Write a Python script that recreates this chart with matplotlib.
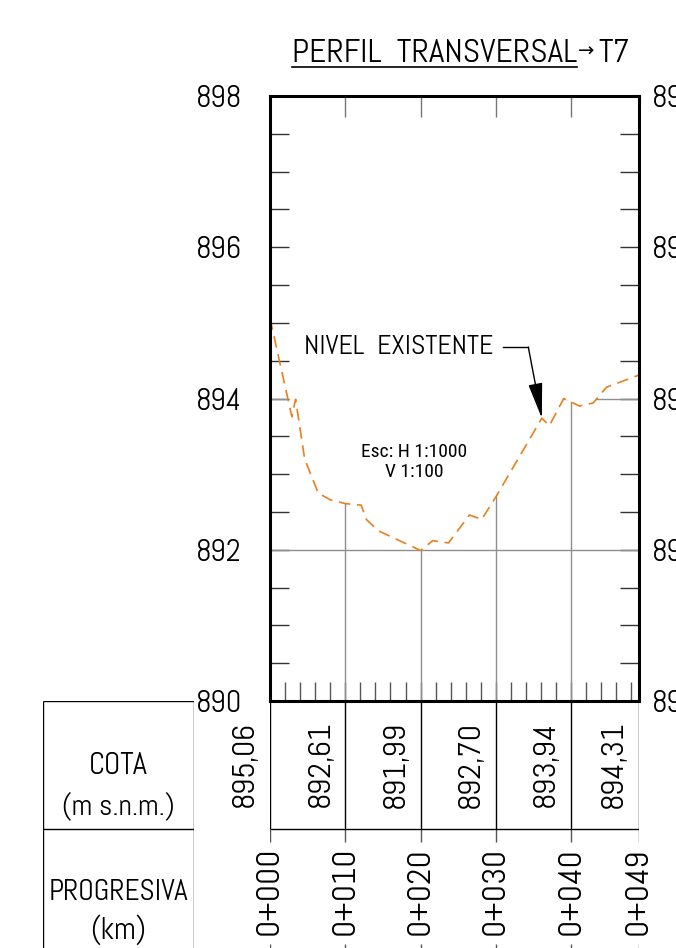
import numpy as np
import matplotlib
matplotlib.use('Agg')
import matplotlib.pyplot as plt
from matplotlib.patches import Polygon
from matplotlib.lines import Line2D

# narrow CAD-like lettering, with fallbacks
cad = ['Abel', 'Liberation Sans', 'DejaVu Sans']
narrow = ['Roboto Condensed', 'Liberation Sans', 'DejaVu Sans']
plt.rcParams['font.family'] = cad

# terrain profile (distance m, elevation m s.n.m.)
dist = [0.0, 2.9, 3.4, 4.6, 6.4, 8.0, 10.0, 12.1, 12.8, 14.4, 20.0, 21.6, 23.7,
        26.5, 28.1, 30.0, 36.1, 37.1, 39.0, 41.1, 42.9, 44.7, 49.0]
elev = [895.06, 893.76, 893.99, 893.20, 892.75, 892.66, 892.61, 892.59, 892.40,
        892.25, 891.99, 892.12, 892.09, 892.46, 892.40, 892.70, 893.74, 893.64,
        894.00, 893.90, 893.94, 894.15, 894.31]

# stations shown in the table
stations = [0, 10, 20, 30, 40, 49]
cota = [895.06, 892.61, 891.99, 892.70, 893.94, 894.31]
progresiva = ['0+000', '0+010', '0+020', '0+030', '0+040', '0+049']

y_ticks = [890, 892, 894, 896, 898]
grid_levels = [892, 894, 896]

W, H = 676, 948
fig = plt.figure(figsize=(W / 100, H / 100), dpi=100)

# main profile axes
ax = fig.add_axes([270 / W, (H - 701) / H, 369 / W, 605 / H])
ax.set_xlim(0, 49)
ax.set_ylim(890, 898)

orange = '#E8801E'
grey = '#8f8f8f'

# clip gridlines under the terrain
poly = Polygon(np.column_stack([dist + [dist[-1], dist[0]], elev + [890, 890]]),
               closed=True, transform=ax.transData)
hl = ax.hlines(grid_levels, 0, 49, colors=grey, linewidth=1.0)
hl.set_clip_path(poly)
vl = ax.vlines(stations[1:-1], 890, 898, colors=grey, linewidth=1.0)
vl.set_clip_path(poly)

ax.plot(dist, elev, color=orange, linewidth=1.2, linestyle=(0, (7, 4)))

for s in ax.spines.values():
    s.set_linewidth(2.2)

# ticks
ax.set_yticks(y_ticks)
ax.set_yticks(np.arange(890, 898.01, 0.5), minor=True)
ax.tick_params(axis='y', which='both', direction='in', length=14, width=1.0,
               color='#333333', left=True, right=True, labelleft=True,
               labelright=False, labelsize=22, pad=20)
ax.set_xticks([10, 20, 30, 40])
ax.set_xticks(np.arange(2, 49, 2), minor=True)
ax.xaxis.remove_overlapping_locs = False
ax.tick_params(axis='x', which='major', direction='in', length=15, width=1.0,
               color='#777777', top=True, bottom=False, labelbottom=False)
ax.tick_params(axis='x', which='minor', direction='in', length=14, width=1.0,
               color='#555555', top=False, bottom=True)

sec = ax.secondary_yaxis('right')
sec.set_yticks(y_ticks)
sec.tick_params(length=0, pad=9.5, labelsize=22)
sec.spines['right'].set_visible(False)

# annotation
ax.text(4.5, 894.68, 'NIVEL  EXISTENTE', fontsize=20, ha='left', va='center')
ax.plot([30.9, 34.3], [894.68, 894.68], color='black', linewidth=1.0)
ax.annotate('', xy=(36.1, 893.74), xytext=(34.3, 894.68),
            arrowprops=dict(arrowstyle='-|>,head_length=1.1,head_width=0.22',
                            color='black', linewidth=1.0, mutation_scale=20,
                            shrinkA=0, shrinkB=0))
ax.text(19.1, 893.16, 'Esc: H 1:1000\nV 1:100', fontsize=14, ha='center',
        va='center', multialignment='center', linespacing=1.2, family=narrow)

# title, underlined, followed by the arrow and section name
t1 = ax.text(0.0596, 1.056, 'PERFIL  TRANSVERSAL', transform=ax.transAxes,
             fontsize=24, ha='left', va='baseline', clip_on=False)
fig.canvas.draw()
bb = t1.get_window_extent()
base = ax.transAxes.transform((0, 1.056))[1]
fig.add_artist(Line2D([bb.x0, bb.x1], [base - 5, base - 5], color='black',
                      linewidth=1.2, transform=None))
ax.text(bb.x1 + 1, base + 11, '\u2192', transform=None, fontsize=14,
        ha='left', va='center', clip_on=False, family='DejaVu Sans')
ax.text(bb.x1 + 21, base, 'T7', transform=None, fontsize=24,
        ha='left', va='baseline', clip_on=False)

# data table below the profile
tab = fig.add_axes([270 / W, 0, 369 / W, 247 / H])
tab.set_xlim(0, 49)
tab.set_ylim(247, 0)
tab.axis('off')
tab.vlines(stations, 0, 128, colors='black', linewidth=1.0)
tab.vlines(stations, 128, 141, colors='#555555', linewidth=1.0)
tab.vlines(stations, 243, 247, colors='#555555', linewidth=1.0)
tab.hlines(128, 0, 49, colors='black', linewidth=1.0)
for s, c in zip(stations, cota):
    tab.annotate(f'{c:.2f}'.replace('.', ','), xy=(s, 63), xytext=(-18, 0),
                 textcoords='offset points', rotation=90, ha='center',
                 va='center', fontsize=23)
for s, p in zip(stations, progresiva):
    tab.text(s, 190, p, rotation=90, ha='center', va='center', fontsize=24,
             rotation_mode='anchor')

# header boxes
hdr = fig.add_axes([43 / W, 0, 151 / W, 247 / H])
hdr.set_xlim(0, 1)
hdr.set_ylim(247, 0)
hdr.axis('off')
hdr.vlines([0, 1], 0, 247, colors='black', linewidth=1.0)
hdr.hlines([0, 128], 0, 1, colors='black', linewidth=1.0)
hdr.text(0.5, 65, 'COTA', ha='center', va='center', fontsize=22)
hdr.text(0.5, 105, '(m s.n.m.)', ha='center', va='center', fontsize=21)
hdr.text(0.5, 192, 'PROGRESIVA', ha='center', va='center', fontsize=21)
hdr.text(0.5, 229, '(km)', ha='center', va='center', fontsize=22)

fig.savefig('out.png', dpi=100)
